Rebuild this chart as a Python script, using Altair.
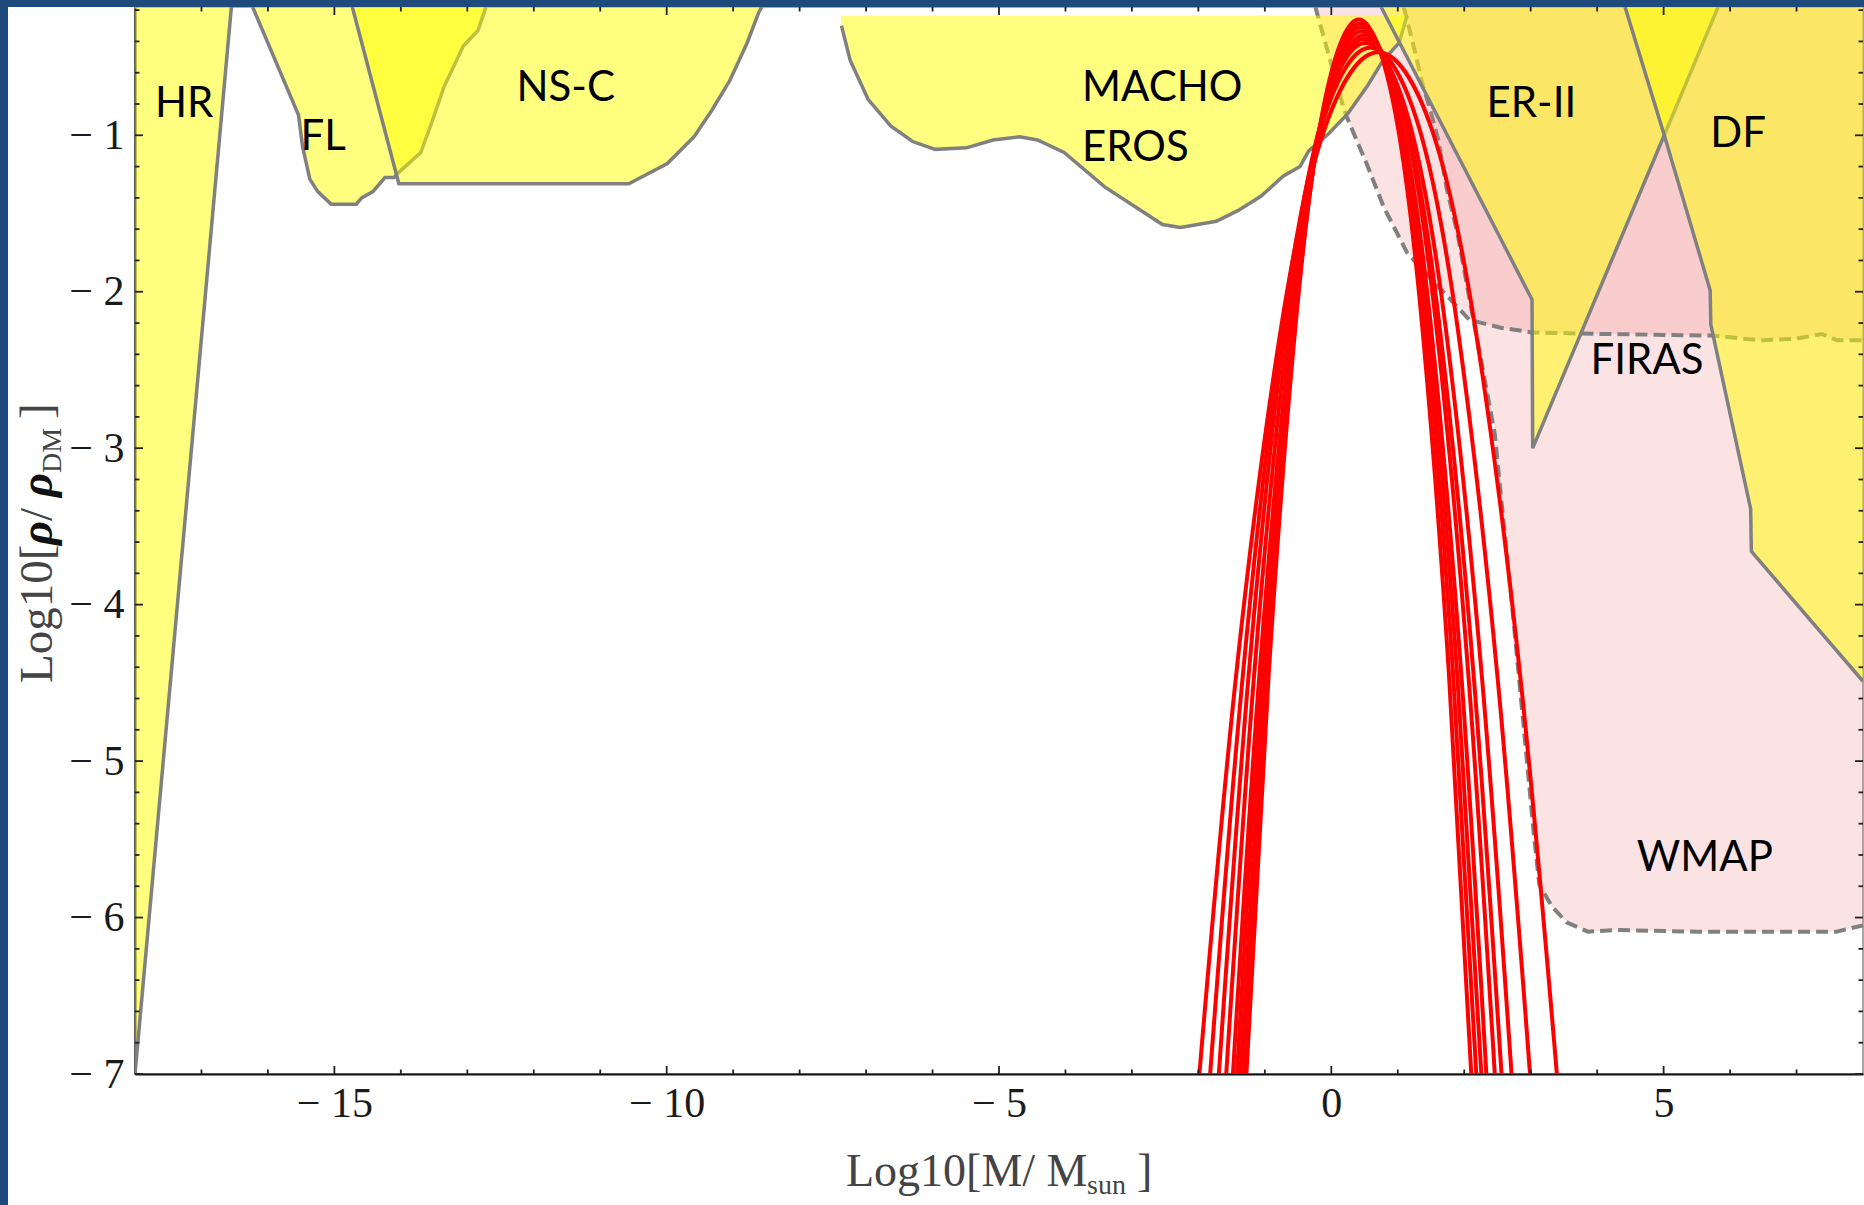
import altair as alt
import pandas as pd

# ---- axis ranges and plot geometry ----
X_DOMAIN = [-18.0, 8.0]
Y_DOMAIN = [-7.0, -0.18]
PLOT_W, PLOT_H = 1728, 1067
PAD = {"left": 135, "top": 7, "right": 1, "bottom": 131}

YELLOW = "#FFFF00"
PINK = "#F27C7C"
GRAY = "#808080"
RED = "#FF0000"
NAVY = "#1F4A7C"

# ---- constraint regions: lower boundary of each excluded region ----
HR_X = [-18.0, -16.55]
HR_Y = [-7.0, -0.18]

FL_X = [-16.23, -15.54, -15.48, -15.37, -15.25, -15.05, -14.67, -14.59, -14.42,
        -14.24, -14.10, -14.04, -13.70, -13.52, -13.35, -13.06, -12.84, -12.72]
FL_Y = [-0.18, -0.87, -1.07, -1.28, -1.36, -1.44, -1.44, -1.40, -1.36,
        -1.27, -1.27, -1.24, -1.11, -0.90, -0.69, -0.43, -0.33, -0.18]

NSC_X = [-14.73, -14.03, -10.57, -9.99, -9.59, -9.32, -9.05, -8.79, -8.62, -8.57]
NSC_Y = [-0.18, -1.31, -1.31, -1.18, -1.01, -0.84, -0.65, -0.41, -0.22, -0.18]

MACHO_TOP = -0.235
MACHO_X = [-7.38, -7.37, -7.24, -6.97, -6.63, -6.30, -5.96, -5.49, -5.09, -4.69,
           -4.42, -4.02, -3.41, -2.94, -2.54, -2.27, -1.73, -1.40, -1.06, -0.72,
           -0.47, -0.34, -0.04, 0.25, 0.55, 0.78, 1.02, 1.14]
MACHO_Y = [-0.235, -0.30, -0.52, -0.77, -0.94, -1.04, -1.09, -1.08, -1.03, -1.01,
           -1.03, -1.11, -1.33, -1.46, -1.57, -1.59, -1.55, -1.48, -1.39, -1.26,
           -1.20, -1.10, -0.99, -0.86, -0.68, -0.52, -0.41, -0.235]

ER2_X = [0.75, 3.02, 3.03, 5.82]
ER2_Y = [-0.18, -2.05, -3.00, -0.18]

DF_X = [4.42, 5.01, 5.70, 5.71, 6.31, 6.32, 8.0]
DF_Y = [-0.18, -1.00, -1.99, -2.21, -3.39, -3.66, -4.49]

FIRAS_X = [-0.24, 0.18, 0.23, 0.54, 0.79, 1.14, 1.55, 2.08, 2.55, 3.02, 4.08,
           5.73, 6.44, 7.00, 7.38, 7.61, 8.0]
FIRAS_Y = [-0.18, -0.82, -0.88, -1.19, -1.46, -1.75, -1.94, -2.18, -2.23, -2.26, -2.27,
           -2.28, -2.31, -2.30, -2.27, -2.31, -2.31]

WMAP_X = [1.09, 1.25, 1.37, 1.49, 1.61, 1.73, 1.90, 2.08, 2.26, 2.46, 2.56, 2.73,
          2.89, 3.05, 3.13, 3.32, 3.54, 3.86, 4.30, 5.50, 7.60, 8.0]
WMAP_Y = [-0.18, -0.45, -0.67, -0.84, -1.03, -1.33, -1.63, -2.05, -2.45, -2.91, -3.34, -4.05,
          -4.76, -5.48, -5.79, -5.93, -6.03, -6.09, -6.08, -6.09, -6.09, -6.05]

# ---- extended mass functions (red curves) ----
RED_X = [
    [-1.278, -0.940, -0.517, -0.094, 0.414, 0.922, 1.345, 1.768, 2.106],
    [-1.318, -0.968, -0.531, -0.093, 0.432, 0.957, 1.395, 1.832, 2.182],
    [-1.369, -1.006, -0.553, -0.100, 0.445, 0.989, 1.442, 1.895, 2.258],
    [-1.419, -1.044, -0.575, -0.106, 0.457, 1.020, 1.489, 1.958, 2.333],
    [-1.480, -1.086, -0.594, -0.101, 0.490, 1.081, 1.574, 2.066, 2.460],
    [-1.581, -1.167, -0.649, -0.131, 0.490, 1.111, 1.629, 2.147, 2.561],
    [-1.692, -1.252, -0.701, -0.151, 0.510, 1.171, 1.721, 2.272, 2.712],
    [-1.823, -1.342, -0.740, -0.139, 0.584, 1.306, 1.907, 2.509, 2.990],
    [-1.985, -1.447, -0.775, -0.102, 0.705, 1.511, 2.184, 2.856, 3.394],
]
RED_Y = [
    [-7.0, -4.43, -2.12, -0.77, -0.260, -0.77, -2.12, -4.43, -7.0],
    [-7.0, -4.44, -2.14, -0.79, -0.285, -0.79, -2.14, -4.44, -7.0],
    [-7.0, -4.45, -2.16, -0.81, -0.310, -0.81, -2.16, -4.45, -7.0],
    [-7.0, -4.46, -2.18, -0.84, -0.335, -0.84, -2.18, -4.46, -7.0],
    [-7.0, -4.47, -2.20, -0.86, -0.360, -0.86, -2.20, -4.47, -7.0],
    [-7.0, -4.48, -2.22, -0.88, -0.385, -0.88, -2.22, -4.48, -7.0],
    [-7.0, -4.49, -2.23, -0.91, -0.410, -0.91, -2.23, -4.49, -7.0],
    [-7.0, -4.50, -2.25, -0.93, -0.440, -0.93, -2.25, -4.50, -7.0],
    [-7.0, -4.51, -2.28, -0.96, -0.470, -0.96, -2.28, -4.51, -7.0],
]

# ---- region labels ----
LABELS_C = ["HR", "FL", "NS-C", "ER-II", "DF", "FIRAS", "WMAP"]
LABELS_C_X = [-17.26, -15.17, -11.52, 3.01, 6.12, 4.75, 5.62]
LABELS_C_Y = [-0.80, -1.01, -0.70, -0.80, -0.99, -2.44, -5.62]
LABELS_L = ["MACHO", "EROS"]
LABELS_L_X = [-3.75, -3.75]
LABELS_L_Y = [-0.70, -1.08]

# ---- ticks ----
X_MAJOR = [-15, -10, -5, 0, 5]
X_MINOR = [v for v in range(-17, 8) if v % 5 != 0]
Y_MAJOR = [-7, -6, -5, -4, -3, -2, -1]
Y_MINOR = [round(-7 + 0.2 * k, 1) for k in range(1, 35) if k % 5 != 0]

MINUS_EXPR = "datum.value < 0 ? '\u2212 ' + format(-datum.value, 'd') : format(datum.value, 'd')"

X_AXIS = alt.Axis(values=X_MAJOR, labelExpr=MINUS_EXPR, ticks=False, grid=False,
                  domainColor="#111111", domainWidth=2, labelFont="Liberation Serif",
                  labelFontSize=42, labelColor="#1a1a1a", labelPadding=9,
                  labelFlush=False, labelOverlap=False, title=None)
Y_AXIS = alt.Axis(values=Y_MAJOR, labelExpr=MINUS_EXPR, ticks=False, grid=False,
                  domainColor="#111111", domainWidth=2, labelFont="Liberation Serif",
                  labelFontSize=42, labelColor="#1a1a1a", labelPadding=11,
                  labelFlush=False, labelOverlap=False, title=None)


def xenc(field="x"):
    return alt.X(f"{field}:Q", scale=alt.Scale(domain=X_DOMAIN, nice=False, zero=False), axis=X_AXIS)


def yenc(field="y"):
    return alt.Y(f"{field}:Q", scale=alt.Scale(domain=Y_DOMAIN, nice=False, zero=False), axis=Y_AXIS)


def frame(xs, ys, top=None):
    df = pd.DataFrame({"x": xs, "y": ys, "i": list(range(len(xs)))})
    df["top"] = Y_DOMAIN[1] if top is None else top
    return df


def region(xs, ys, color, opacity, top=None):
    return alt.Chart(frame(xs, ys, top)).mark_area(
        clip=True, color=color, opacity=opacity, interpolate="linear"
    ).encode(x=xenc(), y=yenc(), y2=alt.Y2("top:Q"))


def outline(xs, ys, dashed=False):
    props = dict(clip=True, color=GRAY, strokeWidth=3.5)
    if dashed:
        props["strokeDash"] = [12, 6]
        props["strokeWidth"] = 4
    return alt.Chart(frame(xs, ys)).mark_line(**props).encode(
        x=xenc(), y=yenc(), order=alt.Order("i:Q"))


layers = [
    region(WMAP_X, WMAP_Y, PINK, 0.21), outline(WMAP_X, WMAP_Y, dashed=True),
    region(FIRAS_X, FIRAS_Y, PINK, 0.21), outline(FIRAS_X, FIRAS_Y, dashed=True),
    region(HR_X, HR_Y, YELLOW, 0.5), outline(HR_X, HR_Y),
    region(FL_X, FL_Y, YELLOW, 0.5), outline(FL_X, FL_Y),
    region(NSC_X, NSC_Y, YELLOW, 0.5), outline(NSC_X, NSC_Y),
    region(MACHO_X, MACHO_Y, YELLOW, 0.5, top=MACHO_TOP), outline(MACHO_X[1:], MACHO_Y[1:]),
    region(ER2_X, ER2_Y, YELLOW, 0.5), outline(ER2_X, ER2_Y),
    region(DF_X, DF_Y, YELLOW, 0.5), outline(DF_X, DF_Y),
]

# red mass-function curves
red_rows = []
for c, (xs, ys) in enumerate(zip(RED_X, RED_Y)):
    for i, (xv, yv) in enumerate(zip(xs, ys)):
        red_rows.append({"curve": c, "i": i, "x": xv, "y": yv})
layers.append(
    alt.Chart(pd.DataFrame(red_rows)).mark_line(
        clip=True, color=RED, strokeWidth=4, interpolate="natural"
    ).encode(x=xenc(), y=yenc(), detail="curve:N", order=alt.Order("i:Q"))
)

# region names
layers.append(
    alt.Chart(pd.DataFrame({"x": LABELS_C_X, "y": LABELS_C_Y, "t": LABELS_C})).mark_text(
        font="Lato", fontSize=42, color="black", align="center", baseline="middle"
    ).encode(x=xenc(), y=yenc(), text="t:N")
)
layers.append(
    alt.Chart(pd.DataFrame({"x": LABELS_L_X, "y": LABELS_L_Y, "t": LABELS_L})).mark_text(
        font="Lato", fontSize=42, color="black", align="left", baseline="middle"
    ).encode(x=xenc(), y=yenc(), text="t:N")
)


# inward frame ticks on all four sides
def xticks(values, length):
    df = pd.DataFrame({"x": values})
    bottom = alt.Chart(df).mark_rule(color="#222222", strokeWidth=1.8).encode(
        x=xenc(), y=alt.value(PLOT_H), y2=alt.value(PLOT_H - length))
    top = alt.Chart(df).mark_rule(color="#222222", strokeWidth=1.8).encode(
        x=xenc(), y=alt.value(0), y2=alt.value(length))
    return [bottom, top]


def yticks(values, length):
    df = pd.DataFrame({"y": values})
    left = alt.Chart(df).mark_rule(color="#222222", strokeWidth=1.8).encode(
        y=yenc(), x=alt.value(0), x2=alt.value(length))
    right = alt.Chart(df).mark_rule(color="#222222", strokeWidth=1.8).encode(
        y=yenc(), x=alt.value(PLOT_W), x2=alt.value(PLOT_W - length))
    return [left, right]


layers += xticks(X_MAJOR, 8) + xticks(X_MINOR, 4.5)
layers += yticks(Y_MAJOR, 8) + yticks(Y_MINOR, 4.5)

one = pd.DataFrame({"k": [0]})


def piece(text, x, y, size, angle=0, style="normal", weight="normal", color="#444444"):
    return alt.Chart(one).mark_text(
        text=text, font="Liberation Serif", fontSize=size, angle=angle, align="left",
        baseline="alphabetic", fontStyle=style, fontWeight=weight, color=color
    ).encode(x=alt.value(x), y=alt.value(y))


# x-axis title: Log10[M/ M_sun ]
layers += [
    piece("Log10[M/ M", 711, 1179, 46),
    piece("sun", 952, 1187, 28),
    piece("]", 1002, 1179, 46),
]
# y-axis title: Log10[rho/ rho_DM ]
layers += [
    piece("Log10[", -83, 676, 47, angle=270),
    piece("\u03c1", -83, 538, 47, angle=270, style="italic", weight="bold", color="#111111"),
    piece("/", -83, 514, 47, angle=270),
    piece("\u03c1", -83, 490, 47, angle=270, style="italic", weight="bold", color="#111111"),
    piece("DM", -74, 466, 28, angle=270),
    piece("]", -83, 412, 47, angle=270),
]

# slide frame strips along the top and left edges
layers += [
    alt.Chart(one).mark_rect(color=NAVY).encode(
        x=alt.value(-135), x2=alt.value(PLOT_W + 1), y=alt.value(-7), y2=alt.value(0)),
    alt.Chart(one).mark_rect(color=NAVY).encode(
        x=alt.value(-135), x2=alt.value(-127), y=alt.value(-7), y2=alt.value(PLOT_H + 131)),
]

chart = alt.layer(*layers).properties(
    width=PLOT_W, height=PLOT_H, padding=PAD,
    autosize=alt.AutoSizeParams(type="none"), background="white",
).configure_view(stroke="#8a8a8a", strokeWidth=1.5)

chart.save("out.html", embed_options={"renderer": "svg", "actions": False})
